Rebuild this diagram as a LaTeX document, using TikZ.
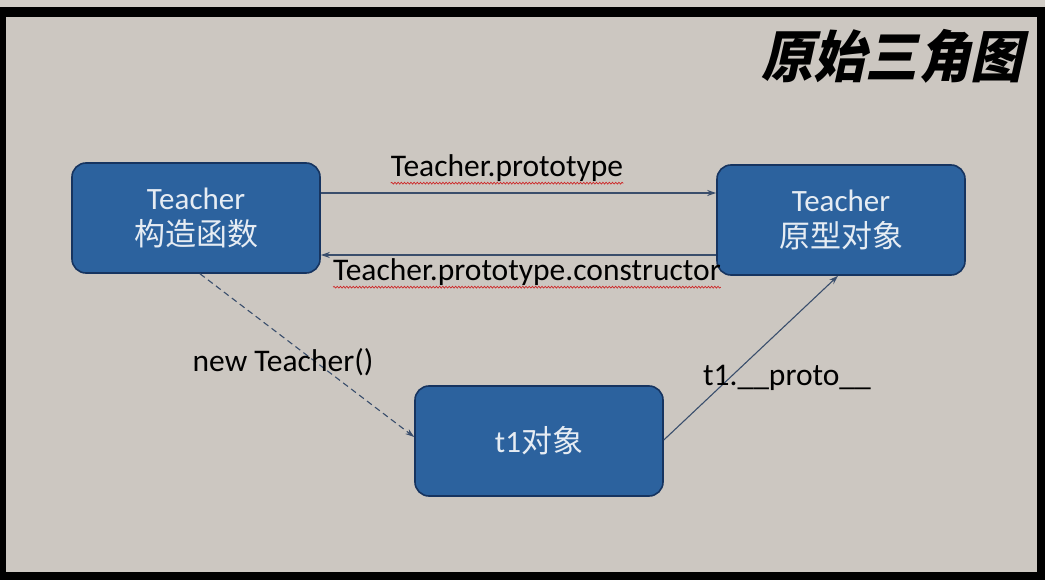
\documentclass[tikz,border=0pt]{standalone}
\usepackage{fontspec}
\setmainfont{Carlito}
\newfontfamily\cjk{Noto Sans CJK SC}
\newfontfamily\titlefont{Noto Sans CJK SC}[FakeSlant=0.22,FakeStretch=0.93]
\usetikzlibrary{arrows.meta,decorations.pathmorphing}
\definecolor{bg}{RGB}{204,199,193}
\definecolor{boxfill}{RGB}{44,98,158}
\definecolor{boxline}{RGB}{22,52,96}
\definecolor{boxtext}{RGB}{230,236,243}
\definecolor{arrcol}{RGB}{58,78,108}
\definecolor{wavy}{RGB}{205,40,40}
\tikzset{
  blbox/.style={rounded corners=14pt, fill=boxfill, draw=boxline, line width=1.6pt,
    minimum width=248pt, minimum height=110pt, text=boxtext, align=center,
    font=\fontsize{31}{36}\selectfont},
  arr/.style={draw=arrcol, line width=1.1pt, -{Stealth[length=9pt,width=6pt]}},
  lbl/.style={inner sep=0pt, text=black, font=\fontsize{31.5}{36}\selectfont},
  squig/.style={draw=wavy, line width=0.7pt, decorate,
    decoration={snake, amplitude=0.9pt, segment length=3.2pt}}
}
\begin{document}
\begin{tikzpicture}[x=1pt,y=-1pt]
\useasboundingbox (0,0) rectangle (1045,580);
\fill[black] (0,0) rectangle (1045,580);
\fill[bg!90!white] (0,0) rectangle (1045,7);
\fill[bg] (6,17) rectangle (1037,572);
% title
\node (title) at (892,56) {\titlefont\bfseries\fontsize{56}{60}\selectfont 原始三角图};
% boxes
\node[blbox] (ctor) at (196,218) {Teacher\\{\cjk\fontsize{31}{36}\selectfont 构造函数}};
\node[blbox] (proto) at (841,220) {Teacher\\{\cjk\fontsize{31}{36}\selectfont 原型对象}};
\node[blbox] (t1) at (539,441) {t1{\cjk\fontsize{31}{36}\selectfont 对象}};
% connectors
\draw[arr] ([yshift=25pt]ctor.east) -- ([yshift=27pt]proto.west);
\draw[arr] ([yshift=-35pt]proto.west) -- ([yshift=-37pt]ctor.east);
\draw[arr, dashed, dash pattern=on 6pt off 4pt] ([xshift=4pt]ctor.south) -- ([yshift=4pt]t1.west);
\draw[arr] ([yshift=1pt]t1.east) -- ([xshift=-3pt]proto.south);
% labels
\node[lbl] (l1) at (507,168) {Teacher.prototype};
\node[lbl] (l2) at (527,272) {Teacher.prototype.constructor};
\node[lbl] (l3) at (283,362) {new Teacher()};
\node[lbl] (l4) at (787,378) {t1.\_\_proto\_\_};
\draw[squig] ([yshift=-1.5pt]l1.south west) -- ([yshift=-1.5pt]l1.south east);
\draw[squig] ([yshift=-1.5pt]l2.south west) -- ([yshift=-1.5pt]l2.south east);
\end{tikzpicture}
\end{document}
